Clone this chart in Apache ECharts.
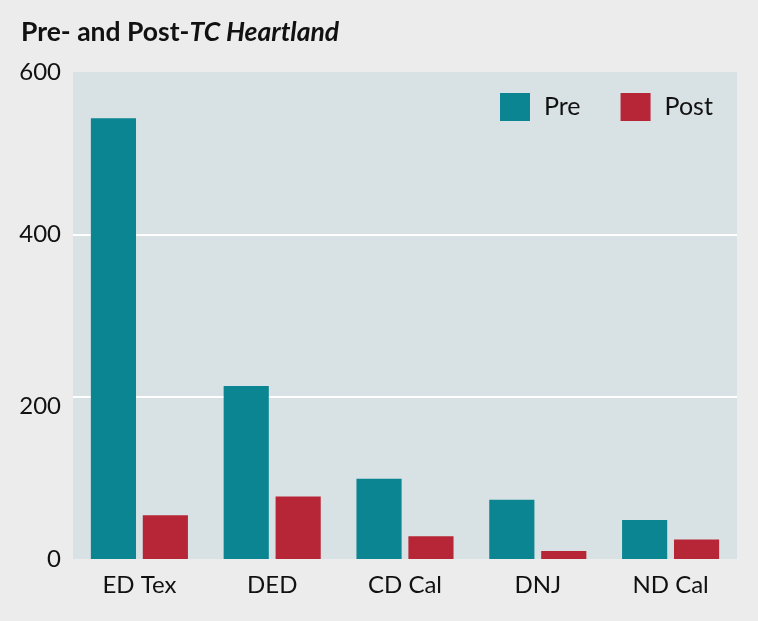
<!DOCTYPE html>
<html><head><meta charset="utf-8">
<script src="https://cdn.jsdelivr.net/npm/echarts@6/dist/echarts.min.js"></script>
<style>html,body{margin:0;padding:0;background:#ececec;}#c{width:758px;height:621px;}</style>
</head><body><div id="c"></div>
<script>
const categories = ['ED Tex', 'DED', 'CD Cal', 'DNJ', 'ND Cal'];
const preValues = [543, 213, 99, 73, 48];
const postValues = [54, 77, 28, 10, 24];
const yTicks = [0, 200, 400, 600];

const FONT = 'Lato';
const chart = echarts.init(document.getElementById('c'));
chart.setOption({
  backgroundColor: '#ececec',
  animation: false,
  title: {
    text: '{b|Pre- and Post-}{i|TC Heartland}',
    left: 21, top: 19, padding: 0,
    textStyle: {
      rich: {
        b: {fontFamily: FONT, fontWeight: 'bold', fontSize: 26.5, color: '#111'},
        i: {fontFamily: FONT, fontWeight: 'bold', fontStyle: 'italic', fontSize: 26.5, color: '#111'}
      }
    }
  },
  legend: {
    left: 500, top: 93, padding: 0,
    icon: 'rect',
    itemWidth: 30, itemHeight: 28, itemGap: 40,
    textStyle: {fontFamily: FONT, fontSize: 25, color: '#111', padding: [0, 0, 0, 9]},
    data: ['Pre', 'Post']
  },
  grid: {
    left: 73, right: 21, top: 72, bottom: 62,
    show: true, backgroundColor: '#d8e1e3', borderWidth: 0, containLabel: false
  },
  xAxis: {
    type: 'category', data: categories,
    axisLine: {show: false}, axisTick: {show: false},
    axisLabel: {fontFamily: FONT, fontSize: 24, color: '#111', margin: 14}
  },
  yAxis: {
    type: 'value', min: yTicks[0], max: yTicks[yTicks.length - 1], interval: 200,
    axisLine: {show: false}, axisTick: {show: false},
    splitLine: {show: true, showMinLine: false, showMaxLine: false, lineStyle: {color: '#ffffff', width: 2}},
    axisLabel: {
      fontFamily: FONT, fontSize: 24, color: '#111', margin: 12,
      formatter: v => v === 200 ? '{d|200}' : String(v),
      rich: {d: {fontFamily: FONT, fontSize: 24, color: '#111', padding: [20, 0, 0, 0]}}
    }
  },
  series: [
    {name: 'Pre', type: 'bar', data: preValues, barWidth: '34%', barGap: '15%',
     itemStyle: {color: '#0b8592'}},
    {name: 'Post', type: 'bar', data: postValues, barWidth: '34%', barGap: '15%',
     itemStyle: {color: '#b72636'}}
  ]
});
</script></body></html>
